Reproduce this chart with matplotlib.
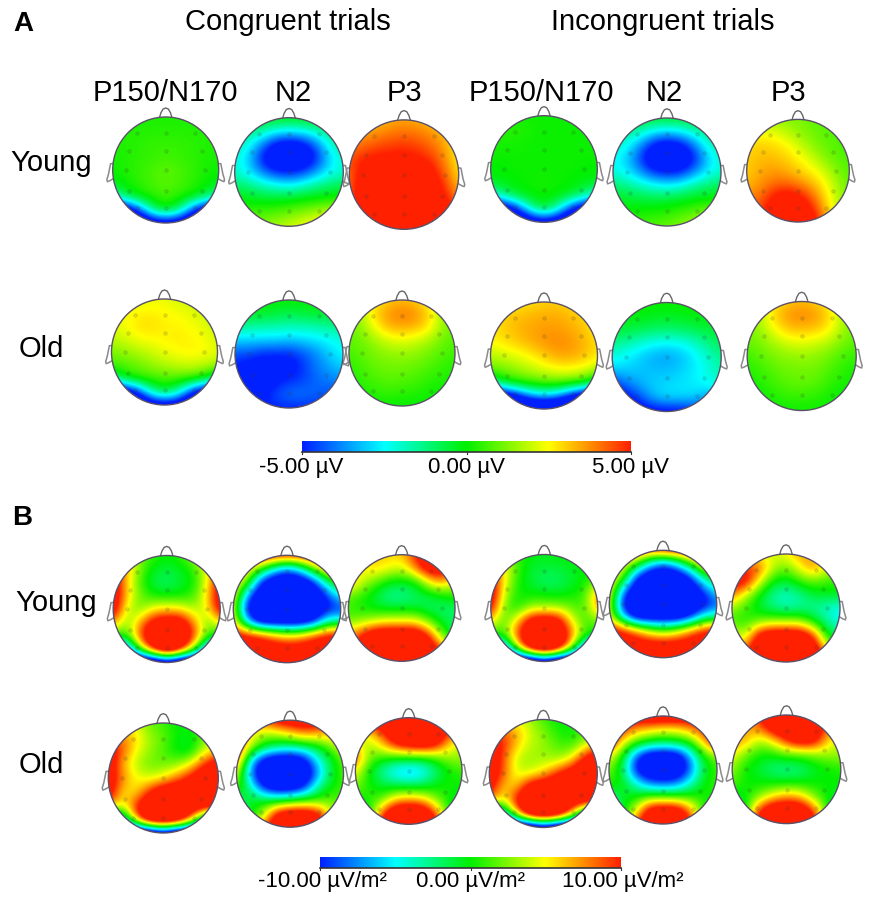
import numpy as np
import matplotlib
matplotlib.use("Agg")
import matplotlib.pyplot as plt
from matplotlib.colors import LinearSegmentedColormap, Normalize
from matplotlib.patches import Circle

plt.rcParams['font.family'] = ['Liberation Sans', 'DejaVu Sans']

# scalp values, on a 9x9 grid (rows front to back, columns left to right)
# panel A in uV
a_young_con_p150 = [
    [.3, .3, .3, .3, .3, .3, .3, .3, .3],
    [.3, .3, .3, .3, .3, .3, .3, .3, .3],
    [.3, .3, .4, .5, .5, .5, .4, .3, .3],
    [.2, .3, .4, .5, .6, .5, .4, .3, .2],
    [.1, .3, .5, .7, .9, .7, .5, .2, .1],
    [-.2, .1, .4, .7, .9, .7, .4, .1, -.2],
    [-2, -.6, .1, .4, .6, .4, .1, -.6, -2],
    [-8, -7, -4.5, -1, .1, -1, -4.5, -7, -8],
    [-8, -8, -8, -7, -6.5, -7, -8, -8, -8]]
a_young_con_n2 = [
    [0, 0, 0, 0, 0, 0, 0, 0, 0],
    [-1, -1, -1.5, -2.2, -2.4, -2.2, -1.6, -1, -1],
    [-1.5, -2.3, -3.8, -5.5, -6, -5.5, -4, -2, -1.2],
    [-2, -3, -5.2, -6.5, -6.5, -6.3, -5, -2.8, -2],
    [-2, -2.7, -4, -5, -5.2, -4.8, -3.6, -2.5, -2],
    [-1, -1.2, -1.8, -2.2, -2.5, -2, -1.4, -1, -.7],
    [0, -.2, -.3, -.3, -.2, 0, .1, .2, .3],
    [.6, .6, .7, .8, 1, 1.3, 1.6, 2, 2],
    [1, 1, 1.3, 1.7, 2, 2.4, 2.7, 3, 3]]
a_young_con_p3 = [
    [3, 3, 3, 3.3, 3.5, 3.3, 3, 2.5, 2],
    [3.5, 3.5, 3.7, 4, 4.1, 4, 3.7, 3.2, 2.5],
    [4, 4.2, 4.5, 4.7, 4.8, 4.6, 4.2, 3.5, 2.5],
    [4.5, 5, 5.3, 5.3, 5.3, 5.2, 4.8, 3.8, 2.5],
    [4, 5.5, 6, 6, 6, 6, 5.5, 4.2, 2.8],
    [4, 6, 6, 6, 6, 6, 5.8, 4.8, 3.2],
    [4, 6, 6, 6, 6, 6, 6, 5.3, 4],
    [5, 6, 6, 6, 6, 6, 6, 6, 5],
    [6, 6, 6, 6, 6, 6, 6, 6, 6]]
a_old_con_p150 = [
    [2, 2, 2, 2.3, 2.3, 2, 2, 1.8, 1.8],
    [2.2, 2.4, 2.6, 2.6, 2.5, 2.4, 2.2, 2, 1.8],
    [2.2, 2.4, 2.8, 2.9, 2.6, 2.6, 2.4, 2.2, 1.8],
    [1.8, 2.1, 2.4, 2.5, 2.6, 2.7, 2.6, 2.4, 2],
    [1.2, 1.4, 1.7, 2, 2.3, 2.5, 2.6, 2.5, 2.2],
    [.6, .8, 1, 1.4, 1.7, 1.9, 2, 1.8, 1.6],
    [-1.5, -.1, .5, .6, .7, .7, .6, 0, -1.5],
    [-8, -7, -5, -1.6, -.4, -1.6, -5, -7, -8],
    [-8, -8, -8, -7, -6.5, -7, -8, -8, -8]]
a_old_con_n2 = [
    [0, 0, 0, 0, 0, 0, 0, 0, 0],
    [-.3, -.3, -.3, -.5, -.7, -.5, -.4, -.3, -.3],
    [-1.5, -1.5, -1.7, -1.7, -1.8, -1.8, -1.7, -1.5, -1.3],
    [-3, -3, -3, -3, -3.2, -3, -2.8, -2.5, -2.2],
    [-4.5, -4.5, -5, -5, -5, -4.5, -3.8, -3, -2.5],
    [-5, -5.5, -5.5, -5.5, -5.5, -4.8, -4, -3.5, -3],
    [-5, -5.5, -5.5, -5.2, -4.8, -4.6, -4.2, -4, -3.8],
    [-5, -5.5, -5.3, -4.5, -4, -4, -4.2, -4.5, -4.5],
    [-5, -5, -5, -5, -5, -5, -5, -5, -5]]
a_old_con_p3 = [
    [2, 2, 2.5, 3, 3.2, 3, 2.5, 1.5, 1],
    [1.5, 1.8, 3, 3.7, 4, 3.8, 3, 1.6, 1],
    [1, 1.4, 2.5, 3.4, 3.5, 3.4, 2.8, 1.5, .9],
    [.9, 1.1, 1.6, 2.1, 2.3, 2.1, 1.7, 1.1, .8],
    [.7, .9, 1.2, 1.4, 1.5, 1.4, 1.1, .8, .6],
    [.4, .7, 1, 1.1, 1.1, 1, .8, .5, .3],
    [.2, .5, .7, .9, .8, .7, .4, .3, .2],
    [0, .2, .4, .5, .4, .3, .2, 0, 0],
    [0, 0, 0, 0, 0, 0, 0, 0, 0]]
a_young_inc_p150 = [
    [.1, .1, .1, .1, .1, .1, .1, .1, .1],
    [.3, .4, .4, .2, .1, .1, .1, .1, .1],
    [.2, .2, .2, .1, .1, .1, .1, .1, .1],
    [.1, .1, .1, .1, .1, .1, .1, .1, .1],
    [0, 0, .1, .1, .1, .1, .1, 0, 0],
    [-.3, -.1, 0, .1, .2, .1, 0, -.1, -.3],
    [-2.5, -1.2, -.3, 0, .1, 0, -.3, -1.2, -2.5],
    [-8, -7, -5, -1.8, -.2, -1.8, -5, -7, -8],
    [-8, -8, -8, -7, -6.5, -7, -8, -8, -8]]
a_young_inc_n2 = [
    [-.3, -.3, -.3, -.3, -.3, -.3, -.3, -.3, -.3],
    [-1.3, -1.3, -1.7, -2.5, -2.8, -2.5, -1.8, -1.2, -1],
    [-1.8, -2.3, -3.6, -5.3, -6, -5.5, -4, -2.1, -1.4],
    [-2.3, -3, -4.6, -6.3, -6.6, -6.4, -5.2, -3.1, -2],
    [-2.2, -2.6, -3.6, -4.8, -5.2, -5, -3.8, -2.6, -2],
    [-1, -1.3, -1.8, -2.2, -2.5, -2.2, -1.5, -1.1, -.7],
    [-.2, -.4, -.5, -.6, -.5, -.3, -.1, 0, .1],
    [.2, .2, .2, .3, .4, .6, .9, 1.2, 1.5],
    [.5, .5, .6, .8, 1, 1.3, 1.7, 2, 2]]
a_young_inc_p3 = [
    [1.5, 1.5, 1.5, 1.3, 1.2, 1, .8, .7, .7],
    [2.3, 2.3, 2.2, 1.8, 1.4, 1.1, .9, .8, .7],
    [2.8, 3, 2.9, 2.6, 2, 1.4, 1, .8, .7],
    [3, 3.2, 3.2, 3, 2.6, 2, 1.3, .9, .7],
    [3, 3.4, 3.6, 3.4, 3, 2.6, 2, 1.2, .8],
    [3.2, 3.6, 4, 4.2, 3.8, 3.3, 2.6, 1.6, .9],
    [3.8, 4, 5, 5.5, 5.3, 4.3, 3, 1.8, 1],
    [4, 4.5, 5.5, 6, 6, 5.2, 3.5, 2, 1],
    [4.5, 5, 6, 6.5, 6.5, 6, 4, 2, 1]]
a_old_inc_p150 = [
    [2.5, 2.5, 2.6, 2.8, 3, 3, 2.8, 2.5, 2.2],
    [2.8, 3, 3.2, 3.3, 3.4, 3.4, 3.2, 3, 2.5],
    [2.8, 3, 3.3, 3.5, 3.6, 3.6, 3.4, 3.1, 2.6],
    [2.5, 2.8, 3.1, 3.4, 3.7, 3.8, 3.7, 3.3, 2.8],
    [1.8, 2, 2.3, 2.6, 3.1, 3.5, 3.5, 3.2, 2.7],
    [1, 1.2, 1.5, 1.9, 2.2, 2.5, 2.5, 2.3, 1.8],
    [-1.5, 0, .5, .7, .9, 1, .9, .4, -1],
    [-8, -7, -5.5, -3.5, -2.8, -3.5, -5.5, -7, -8],
    [-9, -9, -9, -9, -9, -9, -9, -9, -9]]
a_old_inc_n2 = [
    [.1, .1, .1, .1, .1, .1, .1, .1, .1],
    [-.1, -.1, -.1, -.2, -.3, -.2, -.1, -.1, -.1],
    [-.4, -.5, -.7, -.9, -1, -.9, -.7, -.5, -.3],
    [-1.3, -1.6, -2, -2.4, -2.5, -2.4, -2, -1.3, -.8],
    [-2.2, -2.5, -3, -3.4, -3.6, -3.3, -2.7, -2, -1.3],
    [-3, -3, -3.1, -3.2, -3.2, -3, -2.7, -2.2, -1.6],
    [-5, -4, -3.4, -3, -2.9, -2.8, -2.6, -2.4, -2],
    [-6, -5.5, -4.5, -3.3, -2.8, -2.8, -3, -3.5, -3.5],
    [-6, -6, -6, -5.5, -5.5, -5.5, -5, -5, -5]]
a_old_inc_p3 = [
    [2, 2, 2.5, 3, 3.2, 3, 2.5, 1.5, 1],
    [1.5, 1.8, 3, 3.7, 3.9, 3.7, 3, 1.7, 1],
    [1.2, 1.5, 2.5, 3.2, 3.3, 3.2, 2.7, 1.6, 1.1],
    [1, 1.2, 1.7, 2.1, 2.3, 2.1, 1.8, 1.2, .8],
    [.6, .9, 1.2, 1.4, 1.5, 1.4, 1.1, .7, .5],
    [.3, .6, .9, 1.1, 1.1, 1.1, .8, .4, .2],
    [.1, .3, .6, .9, 1, .9, .5, .2, .1],
    [0, .1, .3, .5, .5, .4, .2, 0, 0],
    [0, 0, .1, .1, .1, .1, .1, 0, 0]]

# panel B in uV/m2
b_young_con_p150 = [
    [5, 5, 2, 1, 0, 1, 3, 5, 5],
    [8, 7, 2, -.5, -1, -.5, 1, 5, 8],
    [13, 6, 1, -1.5, -2, -1, 0, 5, 13],
    [13, 6, 2, 0, -.3, 0, 1, 6, 13],
    [13, 4, 2, 5, 5.5, 5, 3, 5, 13],
    [8, 2, 7, 12, 13, 13, 7, 2, 6],
    [1, 1, 10, 14, 14, 14, 10, 1, 0],
    [-14, -9, 3, 14, 20, 14, 3, -9, -14],
    [-20, -20, -20, -20, -16, -20, -20, -20, -20]]
b_young_con_n2 = [
    [12, 12, 12, 12, 12, 12, 12, 12, 12],
    [8, 6, 2, -4, -8, -4, 3, 8, 12],
    [6, 3, -10, -14, -14, -14, -10, -2, 2],
    [6, -7, -14, -14, -14, -14, -14, -9, -4],
    [5, -12, -14, -14, -14, -14, -14, -11, -10],
    [6, -6, -14, -14, -14, -14, -11, -3, -3],
    [12, 12, 11, 8, 6, 7, 10, 12, 12],
    [12, 12, 12, 12, 12, 12, 12, 12, 12],
    [12, 12, 12, 12, 12, 12, 12, 12, 12]]
b_young_con_p3 = [
    [6, 6, 6, 6, 6, 10, 13, 10, 6],
    [4, 5, 6, 5, 4, 8, 13, 13, 7],
    [8, 4, 2, 0, -.5, 0, 5, 8, 4],
    [2, 1, -1, -3, -3, -2, -1, 0, 1],
    [1, 0, -.5, -1, -1, -1, -2, -2, -2],
    [2, 3, 4, 5, 5, 5, 2, -1, -2],
    [7, 10, 14, 14, 14, 14, 10, 2, -2],
    [7, 14, 14, 14, 14, 14, 14, 8, 2],
    [14, 14, 14, 14, 14, 14, 14, 14, 14]]
b_old_con_p150 = [
    [4, 4, 4, 2, 1, 0, 0, 1, 2],
    [8, 8, 6, 3, 2, 0, -.5, 2, 4],
    [13, 9, 5, 3, 1.5, -.5, -1, 4, 6],
    [13, 7, 3.5, 2, 2, 2.5, 5, 10, 13],
    [13, 8, 5, 4, 5, 8, 11, 14, 14],
    [13, 6, 5, 10, 14, 14, 14, 14, 14],
    [9, 4, 10, 14, 14, 14, 14, 14, 14],
    [-12, -6, 7, 18, 20, 18, 9, -5, -12],
    [-20, -20, -20, -20, -16, -20, -20, -20, -20]]
b_old_con_n2 = [
    [8, 8, 10, 12, 13, 13, 13, 10, 6],
    [7, 6, 3, 4, 6, 8, 7, 7, 6],
    [12, 4, 0, -2, -3, -2, -.5, 2, 5],
    [10, -5, -12, -14, -14, -12, -5, -1, 2],
    [5, -8, -14, -14, -14, -14, -8, -1, 1.5],
    [2, -3, -11, -14, -14, -11, -3, 0, 1],
    [-3, 0, -.5, -1, 0, 1, 1, 2, 1],
    [-5, -1, 3, 12, 14, 14, 12, 4, 0],
    [-5, 0, 9, 14, 14, 14, 14, 6, 0]]
b_old_con_p3 = [
    [14, 14, 14, 14, 14, 14, 14, 14, 14],
    [5, 6, 10, 14, 14, 14, 14, 10, 6],
    [5, 3, 6, 11, 13, 14, 12, 6, 3],
    [10, 2, 1, 0, 0, 0, 1, 3, 3],
    [5, 0, -3.5, -6, -7, -6, -2.5, 0, 1],
    [3, 0, -1, -2, -2.5, -2, -.5, .5, 0],
    [0, 1, 1, 5, 6, 5, 2, 0, -1],
    [-3, -1, 8, 14, 14, 14, 8, 0, -3],
    [-3, 0, 14, 14, 14, 14, 14, 0, -3]]
b_young_inc_p150 = [
    [2, 2, 1, 0, -.5, 0, 0, 0, 0],
    [8, 6, 1, -1, -1, -1, -.5, 0, 0],
    [13, 5, .5, -1, -2, -2, -1, 0, 2],
    [13, 4, 0, 0, -.3, -.5, 0, 1, 8],
    [12, 2, 0, 3, 3, 3, 2, 1, 8],
    [6, 1, 6, 13, 14, 13, 5, 1, 2],
    [1, 1, 10, 14, 14, 14, 9, 1, 0],
    [-14, -9, 4, 16, 20, 16, 4, -9, -14],
    [-20, -20, -20, -20, -16, -20, -20, -20, -20]]
b_young_inc_n2 = [
    [12, 12, 10, 10, 12, 12, 12, 12, 12],
    [6, 5, 2, -5, -9, -5, 1, 7, 12],
    [6, 3, -10, -14, -14, -14, -10, -2, 0],
    [6, -7, -14, -14, -14, -14, -14, -9, -4],
    [5, -12, -14, -14, -14, -14, -14, -12, -9],
    [5, -6, -14, -14, -14, -14, -11, -4, -3],
    [12, 11, 8, 4, 2, 4, 8, 11, 12],
    [12, 12, 12, 12, 12, 12, 12, 12, 12],
    [12, 12, 12, 12, 12, 12, 12, 12, 12]]
b_young_inc_p3 = [
    [4, 4, 4, 4, 5, 7, 7, 3, 2],
    [9, 10, 9, 4, 2, 5, 8, 5, 2],
    [13, 12, 5, 0, -1, 1, 2, 1, 1],
    [8, 4, 0, -3, -4, -3, -1, -.5, -.5],
    [3, 1, -1, -2.5, -3.5, -3, -3, -4, -5],
    [1, .5, 2, 3, 3, 3, 0, -3, -5],
    [5, 3, 12, 14, 14, 14, 10, 0, -2],
    [5, 8, 14, 14, 14, 14, 14, 5, -1],
    [14, 14, 14, 14, 14, 14, 14, 14, 14]]
b_old_inc_p150 = [
    [4, 4, 4, 3, 1, 0, 0, 1, 2],
    [9, 9, 7, 4, 2.5, .5, 0, 1, 3],
    [13, 10, 6, 3.5, 3, 1.5, 1, 4, 8],
    [13, 9, 3.5, 3, 3, 3, 5, 12, 14],
    [13, 9, 4, 4, 6, 10, 13, 14, 14],
    [12, 6, 6, 13, 14, 14, 14, 14, 14],
    [9, 4, 12, 14, 14, 14, 14, 14, 14],
    [-12, -6, 6, 18, 20, 18, 8, -5, -12],
    [-20, -20, -20, -20, -16, -20, -20, -20, -20]]
b_old_inc_n2 = [
    [12, 12, 13, 14, 14, 14, 13, 12, 12],
    [11, 10, 7, 6, 5, 5, 7, 10, 12],
    [12, 5, 1, -1, -2, -1, 0, 6, 12],
    [5, 0, -9, -14, -14, -14, -7, 0, 2],
    [2, -1, -11, -14, -14, -14, -9, -1, 1],
    [1, 0, -4, -8, -9, -8, -4, 0, 1],
    [-4, -.5, 0, 2, 2, 1.5, 1, .5, 0],
    [-6, -1, 4, 13, 14, 14, 8, 0, -1],
    [-6, 0, 10, 14, 14, 14, 12, 0, -1]]
b_old_inc_p3 = [
    [8, 8, 10, 14, 14, 14, 14, 10, 8],
    [6, 7, 8, 13, 14, 14, 14, 8, 6],
    [8, 7, 3, 5, 10, 13, 12, 6, 3],
    [5, 2, 0, 0, 1, 1, 2, 3, 3],
    [3, 0, -1, -2.5, -3, -2.5, -1, 0, .5],
    [2, 0, 0, -.5, -.5, -.5, 0, 0, 0],
    [-1, 0, 2, 5, 7, 6, 2, 0, -1],
    [-4, -1, 10, 14, 14, 14, 9, 0, -5],
    [-4, 0, 14, 14, 14, 14, 14, 0, -5]]

# (grid, centre x, centre y, radius) in picture pixels
heads_a = [
    (a_young_con_p150, 165.7, 170, 53), (a_young_con_n2, 289, 172, 54.3), (a_young_con_p3, 404, 174.6, 54.7),
    (a_young_inc_p150, 544, 169, 53.3), (a_young_inc_n2, 667, 172, 54), (a_young_inc_p3, 798, 170.7, 51.3),
    (a_old_con_p150, 164.5, 352, 53), (a_old_con_n2, 289, 354, 54), (a_old_con_p3, 402, 353, 53),
    (a_old_inc_p150, 544, 355.5, 53.5), (a_old_inc_n2, 666.7, 357, 54.5), (a_old_inc_p3, 801.7, 356, 54.5)]
heads_b = [
    (b_young_con_p150, 166.7, 609, 53.5), (b_young_con_n2, 287, 609, 53.7), (b_young_con_p3, 401.7, 608, 53.3),
    (b_young_inc_p150, 544.3, 608, 53.5), (b_young_inc_n2, 663, 604, 53.7), (b_young_inc_p3, 786, 608, 54),
    (b_old_con_p150, 163.3, 778, 55), (b_old_con_n2, 290, 773.7, 53.5), (b_old_con_p3, 408.7, 771, 53.3),
    (b_old_inc_p150, 543.3, 773.5, 54), (b_old_inc_n2, 663, 770, 54), (b_old_inc_p3, 786.5, 769.3, 54.3)]

# electrode rows, in head radii
elec_x = [-.55, 0, .55, -.69, 0, .69, -.75, 0, .75, -.69, 0, .69, -.55, 0, .55]
elec_y = [-.7, -.7, -.7, -.36, -.36, -.36, 0, 0, 0, .39, .39, .39, .72, .72, .72]

nose_x = [-.12, -.09, -.05, 0, .05, .09, .12]
nose_y = [-.98, -1.08, -1.15, -1.17, -1.15, -1.08, -.98]
ear_x = [1.0, 1.04, 1.06, 1.08, 1.11, 1.1, 1.05, 1.0]
ear_y = [-.12, -.12, -.02, .08, .18, .22, .2, .17]

rainbow = LinearSegmentedColormap.from_list("scale", [
    (0, '#0020ff'), (.25, '#00ffff'), (.5, '#00f000'), (.75, '#ffff00'), (1, '#ff2000')])

fig = plt.figure(figsize=(8.92, 9.13), dpi=100)
ax = fig.add_axes([0, 0, 1, 1])


def draw_head(grid, cx, cy, r, limit):
    extent = [cx - 1.125 * r, cx + 1.125 * r, cy + 1.125 * r, cy - 1.125 * r]
    im = ax.imshow(np.array(grid, dtype=float), extent=extent, cmap=rainbow, interpolation='bicubic',
                   norm=Normalize(-limit, limit), aspect='auto', zorder=2)
    im.set_clip_path(Circle((cx, cy), r, transform=ax.transData))
    ax.add_patch(Circle((cx, cy), r, fc='none', ec='#5a5068', lw=1.0, zorder=4))
    ax.plot(cx + r * np.array(nose_x), cy + r * np.array(nose_y), color='#666666', lw=1.0, zorder=1)
    for side in (-1, 1):
        ax.plot(cx + side * r * np.array(ear_x), cy + r * np.array(ear_y), color='#8a8a8a', lw=1.1, zorder=1)
    ax.scatter(cx + r * np.array(elec_x), cy + r * np.array(elec_y), s=7, fc='#404040', ec='#303030',
               lw=.4, alpha=.17, zorder=3)


for grid, cx, cy, r in heads_a:
    draw_head(grid, cx, cy, r, 5)
for grid, cx, cy, r in heads_b:
    draw_head(grid, cx, cy, r, 10)


def draw_scale(left, right, top, bottom):
    ramp = np.linspace(0, 1, 256).reshape(1, -1)
    ax.imshow(ramp, extent=[left, right, bottom, top], cmap=rainbow, aspect='auto', zorder=2)
    ax.plot([left, right], [bottom, bottom], color='#333333', lw=1.2, zorder=3)
    for x in (left, (left + right) / 2, right):
        ax.plot([x, x], [bottom, bottom + 2.5], color='#333333', lw=.8, zorder=3)


draw_scale(302, 631, 441, 452)
draw_scale(320, 621, 857, 868)

ax.text(287.5, 22, "Congruent trials", fontsize=21, ha='center', va='center')
ax.text(663, 22, "Incongruent trials", fontsize=21, ha='center', va='center')
for x, name in [(165, "P150/N170"), (293, "N2"), (404, "P3"), (541, "P150/N170"), (664, "N2"), (788, "P3")]:
    ax.text(x, 93, name, fontsize=21, ha='center', va='center')
ax.text(23, 24, "A", fontsize=20, fontweight='bold', ha='center', va='center')
ax.text(22, 518, "B", fontsize=20, fontweight='bold', ha='center', va='center')
for x, y, name in [(51, 163, "Young"), (41, 349, "Old"), (56, 603, "Young"), (41, 765, "Old")]:
    ax.text(x, y, name, fontsize=21, ha='center', va='center')
for x, label in [(301, "-5.00 µV"), (467, "0.00 µV"), (631, "5.00 µV")]:
    ax.text(x, 468, label, fontsize=16, ha='center', va='center')
for x, label in [(322, "-10.00 µV/m²"), (471, "0.00 µV/m²"), (623, "10.00 µV/m²")]:
    ax.text(x, 882, label, fontsize=16, ha='center', va='center')

ax.set_xlim(0, 892)
ax.set_ylim(913, 0)
ax.axis('off')
fig.savefig("out.png", dpi=100)
